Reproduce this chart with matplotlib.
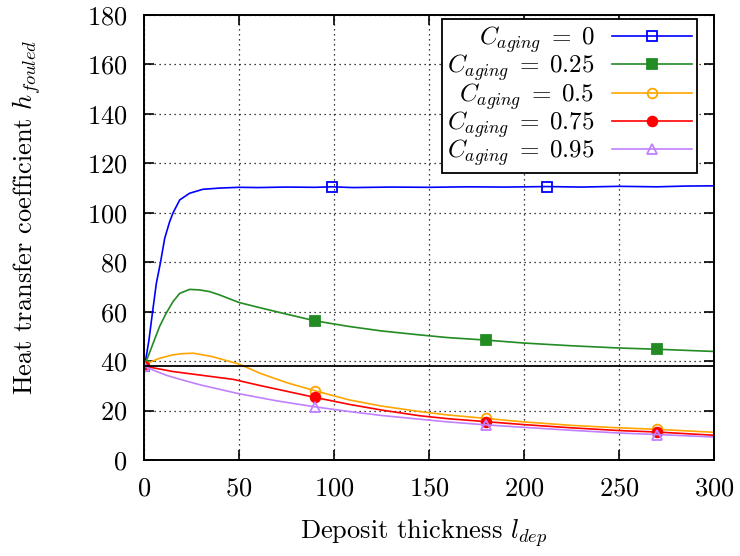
import matplotlib
matplotlib.use("Agg")
import matplotlib.pyplot as plt

plt.rcParams['font.family'] = 'serif'
plt.rcParams['font.serif'] = ['cmr10']
plt.rcParams['mathtext.fontset'] = 'cm'
plt.rcParams['axes.formatter.use_mathtext'] = True

# valores
x_0 = [0, 0.9, 2.6, 4.4, 6.5, 8.6, 10.9, 13.5, 15.3, 18.8, 24, 31, 40, 50, 60, 75, 90, 99, 110, 130, 150, 170, 190, 212, 230, 250, 270, 285, 300]
h_0 = [38, 40.5, 48.5, 59.3, 71.5, 79.6, 89.7, 96.4, 100, 105.2, 107.9, 109.5, 110, 110.3, 110.2, 110.4, 110.3, 110.5, 110.2, 110.4, 110.3, 110.5, 110.4, 110.6, 110.4, 110.7, 110.5, 110.8, 110.9]
marcas_0 = [0, 99, 212]

x_025 = [0, 2.1, 4.8, 8.2, 11.7, 15.3, 18.8, 24, 29.3, 34.6, 40, 50, 61, 75, 90, 108, 125, 145, 160, 180, 200, 225, 250, 270, 300]
h_025 = [38, 41.8, 47.2, 54, 59.4, 64.1, 67.4, 69, 68.8, 68.1, 66.7, 63.7, 61.6, 59, 56.3, 54, 52.2, 50.6, 49.5, 48.5, 47.3, 46.2, 45.3, 44.8, 43.9]
marcas_025 = [0, 90, 180, 270]

x_05 = [0, 1.3, 8, 15, 20, 26, 36, 50, 61, 75, 90, 108, 125, 145, 160, 180, 200, 225, 250, 270, 300]
h_05 = [38, 39, 41.1, 42.5, 43, 43.2, 41.8, 38.8, 35.1, 31.3, 28, 24.3, 21.8, 19.6, 18.2, 16.8, 15.4, 14, 13, 12.4, 11.2]
marcas_05 = [0, 90, 180, 270]

x_075 = [0, 15, 30, 47, 60, 75, 90, 108, 125, 145, 160, 180, 200, 225, 250, 270, 300]
h_075 = [38, 35.8, 34.3, 32.6, 30.3, 27.8, 25.3, 22.5, 20.2, 17.9, 16.7, 15.5, 14.3, 13, 11.9, 11.3, 10.0]
marcas_075 = [0, 90, 180, 270]

x_095 = [0, 5, 12, 20, 30, 50, 70, 90, 108, 125, 145, 160, 180, 200, 225, 250, 270, 300]
h_095 = [38, 36.3, 34.2, 32.4, 30.3, 26.8, 23.9, 21.5, 19.6, 18, 16.5, 15.4, 14.2, 13.2, 12, 10.9, 10.3, 9.3]
marcas_095 = [0, 90, 180, 270]

h_inicial = 38.1

series = [
    (x_0, h_0, marcas_0, r'$C_{aging}\;=\;0$', '#0000ff', 's', 'none'),
    (x_025, h_025, marcas_025, r'$C_{aging}\;=\;0.25$', '#228b22', 's', '#228b22'),
    (x_05, h_05, marcas_05, r'$C_{aging}\;=\;0.5$', '#ffa500', 'o', 'none'),
    (x_075, h_075, marcas_075, r'$C_{aging}\;=\;0.75$', '#ff0000', 'o', '#ff0000'),
    (x_095, h_095, marcas_095, r'$C_{aging}\;=\;0.95$', '#c080ff', '^', 'none'),
]

fig = plt.figure(figsize=(7.4, 5.56), dpi=100)
ax = fig.add_axes([0.1946, 0.1727, 0.7703, 0.8003])

for xs, hs, marcas, etiqueta, color, marcador, relleno in series:
    indices = [xs.index(m) for m in marcas]
    ax.plot(xs, hs, color=color, lw=1.2, marker=marcador, markevery=indices,
            markersize=7, markerfacecolor=relleno, markeredgecolor=color,
            markeredgewidth=1.3, label=etiqueta)

ax.axhline(h_inicial, color='black', lw=1.3)

ax.set_xlim(0, 300)
ax.set_ylim(0, 180)
ax.set_xticks(range(0, 301, 50))
ax.set_yticks(range(0, 181, 20))
ax.grid(True, color='black', linestyle=(0, (1, 3)), lw=0.9)
ax.tick_params(direction='in', length=7, width=1.2, top=True, right=True, labelsize=19)
ax.tick_params(axis='y', pad=12)
ax.tick_params(axis='x', pad=12)
for s in ax.spines.values():
    s.set_linewidth(1.4)

ax.set_xlabel(r'Deposit thickness $l_{dep}$', fontsize=19)
ax.xaxis.set_label_coords(0.49, -0.129)
ax.set_ylabel(r'Heat transfer coefficient $h_{fouled}$', fontsize=19)
ax.yaxis.set_label_coords(-0.177, 0.545)

leg = ax.legend(loc='upper right', markerfirst=False, fontsize=18, fancybox=False,
                edgecolor='black', framealpha=1, handlelength=3.2, handletextpad=0.7,
                labelspacing=-0.1, borderpad=0.2, bbox_to_anchor=(0.97, 0.99),
                borderaxespad=0)
leg.get_frame().set_linewidth(1.3)

plt.savefig('out.png', dpi=100)
